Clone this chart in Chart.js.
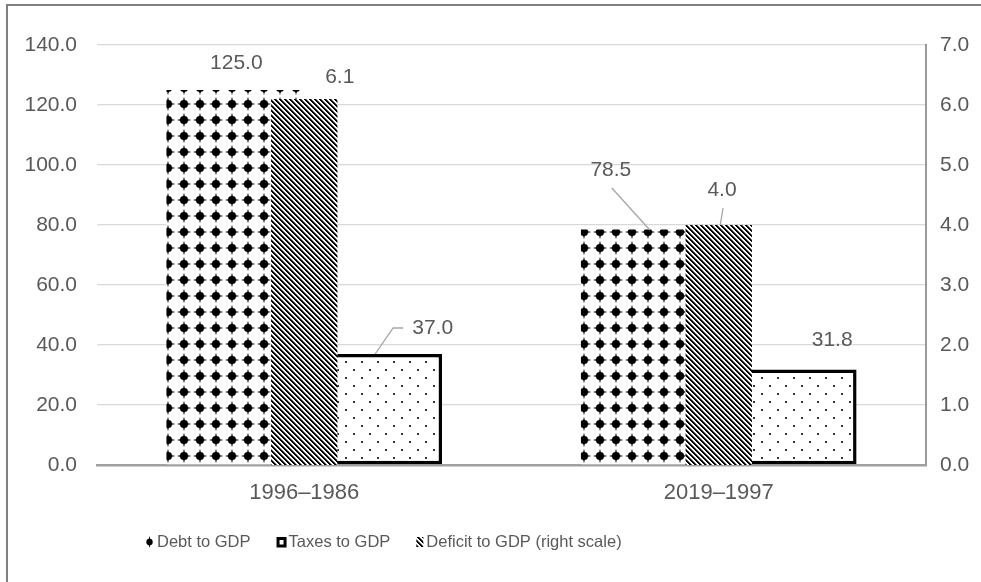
<!DOCTYPE html>
<html>
<head>
<meta charset="utf-8">
<script src="https://cdn.jsdelivr.net/npm/chart.js@4"></script>
<style>
  html, body { margin: 0; padding: 0; background: #fff; }
  #wrap { position: relative; width: 981px; height: 582px; }
</style>
</head>
<body>
<div id="wrap"><canvas id="c" width="981" height="582"></canvas></div>
<script>
// ---- data ----
const categories = ['1996–1986', '2019–1997'];
const debtToGdp = [125.0, 78.5];
const taxesToGdp = [37.0, 31.8];
const deficitToGdp = [6.1, 4.0];
const leftTicks = [0, 20, 40, 60, 80, 100, 120, 140];
const rightTicks = [0, 1, 2, 3, 4, 5, 6, 7];
const seriesNames = ['Debt to GDP', 'Taxes to GDP', 'Deficit to GDP (right scale)'];

// ---- styling ----
const FONT = "'Liberation Sans', Arial, sans-serif";
const TEXT = '#595959';

// where each value label sits relative to the top-centre of its bar,
// plus optional leader lines (bar point, then points relative to the label)
const labelPlacement = [
  [ { dx: 1, dy: -27 },
    { dx: -39, dy: -59.5, leader: { bar: [0, 0.5], label: [[1, 18]] } } ],
  [ { dx: 59.5, dy: -26, leader: { bar: [2, 0], label: [[-39.5, 0], [-29.5, 0]] } },
    { dx: 44.5, dy: -29.5 } ],
  [ { dx: 35.5, dy: -21.5 },
    { dx: 3.25, dy: -35, leader: { bar: [1.5, 0], label: [[1, 18]] } } ]
];

// ---- fill patterns ----
function tile(size, paint) {
  const c = document.createElement('canvas');
  c.width = c.height = size;
  const g = c.getContext('2d');
  g.fillStyle = '#fff';
  g.fillRect(0, 0, size, size);
  paint(g, size);
  return c;
}
function drawDot(g, cx, cy) {
  g.fillStyle = '#000';
  g.beginPath(); g.arc(cx, cy, 4.1, 0, Math.PI * 2); g.fill();
  g.beginPath(); g.moveTo(cx, cy - 7.2); g.lineTo(cx + 1.8, cy); g.lineTo(cx, cy + 7.2); g.lineTo(cx - 1.8, cy); g.closePath(); g.fill();
  g.beginPath(); g.moveTo(cx - 7.2, cy); g.lineTo(cx, cy + 1.8); g.lineTo(cx + 7.2, cy); g.lineTo(cx, cy - 1.8); g.closePath(); g.fill();
}
const debtTile = tile(16, g => drawDot(g, 8, 8));
// dark downward diagonal hatch
const deficitTile = tile(5, (g, n) => {
  const img = g.getImageData(0, 0, n, n);
  for (let y = 0; y < n; y++) for (let x = 0; x < n; x++) {
    const k = (x - y + n * 4) % n;
    const v = k < 2 ? 0 : (k === 2 ? 110 : 255);
    const i = (y * n + x) * 4;
    img.data[i] = img.data[i + 1] = img.data[i + 2] = v; img.data[i + 3] = 255;
  }
  g.putImageData(img, 0, 0);
});
const taxTile = tile(16, g => {
  g.fillStyle = '#333';
  g.fillRect(1, 1, 2, 2);
  g.fillRect(9, 9, 2, 2);
});

const canvas = document.getElementById('c');
const ctx0 = canvas.getContext('2d');
const debtFill = ctx0.createPattern(debtTile, 'repeat');
const deficitFill = ctx0.createPattern(deficitTile, 'repeat');
const taxFill = ctx0.createPattern(taxTile, 'repeat');

// ---- plugins ----
const framePlugin = {
  id: 'frame',
  beforeDraw(chart) {
    const g = chart.ctx;
    g.save();
    g.fillStyle = '#fff';
    g.fillRect(0, 0, chart.width, chart.height);
    g.strokeStyle = '#7f7f7f';
    g.lineWidth = 2;
    g.beginPath();
    g.moveTo(7, chart.height);
    g.lineTo(7, 5);
    g.lineTo(chart.width, 5);
    g.stroke();
    g.restore();
  }
};

const valueLabels = {
  id: 'valueLabels',
  afterDatasetsDraw(chart) {
    const g = chart.ctx;
    g.save();
    g.font = '21px ' + FONT;
    g.fillStyle = TEXT;
    g.textAlign = 'center';
    g.textBaseline = 'middle';
    chart.data.datasets.forEach((ds, i) => {
      const meta = chart.getDatasetMeta(i);
      meta.data.forEach((bar, j) => {
        const p = labelPlacement[i][j];
        const lx = bar.x + p.dx, ly = bar.y + p.dy;
        if (p.leader) {
          g.strokeStyle = '#a6a6a6';
          g.lineWidth = 1.3;
          g.beginPath();
          g.moveTo(bar.x + p.leader.bar[0], bar.y + p.leader.bar[1]);
          p.leader.label.forEach(pt => g.lineTo(lx + pt[0], ly + pt[1]));
          g.stroke();
        }
        g.fillText(ds.data[j].toFixed(1), lx, ly);
      });
    });
    g.restore();
  }
};

const legendPlugin = {
  id: 'patternLegend',
  afterDraw(chart) {
    const g = chart.ctx;
    const y = 542;
    let x = 146;
    g.save();
    g.font = '16.5px ' + FONT;
    g.fillStyle = TEXT;
    g.textBaseline = 'middle';
    g.textAlign = 'left';
    chart.data.datasets.forEach((ds, i) => {
      if (i === 0) {
        g.save();
        g.fillStyle = '#000';
        g.beginPath(); g.arc(x + 3.5, y, 3.2, 0, Math.PI * 2); g.fill();
        g.beginPath(); g.moveTo(x + 3.5, y - 6); g.lineTo(x + 5, y); g.lineTo(x + 3.5, y + 6); g.lineTo(x + 2, y); g.closePath(); g.fill();
        g.restore();
        x += 11;
      } else if (i === 1) {
        g.save();
        g.fillStyle = '#000';
        g.fillRect(x, y - 5, 10, 10.5);
        g.fillStyle = '#fff';
        g.fillRect(x + 3, y - 2, 4, 4.5);
        g.restore();
        x += 12;
      } else {
        g.save();
        g.fillStyle = deficitFill;
        g.fillRect(x, y - 5, 7, 10);
        g.restore();
        x += 10;
      }
      g.fillStyle = TEXT;
      g.fillText(ds.label, x, y);
      x += g.measureText(ds.label).width + 26;
    });
    g.restore();
  }
};

// ---- chart ----
new Chart(canvas, {
  type: 'bar',
  data: {
    labels: categories,
    datasets: [
      { label: seriesNames[0], data: debtToGdp, backgroundColor: debtFill, borderWidth: 0,
        yAxisID: 'y', order: 1, categoryPercentage: 0.665, barPercentage: 1 },
      { label: seriesNames[1], data: taxesToGdp, backgroundColor: taxFill, borderColor: '#000',
        borderWidth: 3.5, borderSkipped: false,
        yAxisID: 'y', order: 1, categoryPercentage: 0.665, barPercentage: 1 },
      // secondary-axis series is centred on the category and drawn over the others
      { label: seriesNames[2], data: deficitToGdp, backgroundColor: deficitFill, borderWidth: 0,
        yAxisID: 'y2', order: 0, grouped: false, categoryPercentage: 1, barPercentage: 0.16 }
    ]
  },
  options: {
    responsive: false,
    animation: false,
    devicePixelRatio: 1,
    layout: { padding: { top: 45, left: 0, right: 0, bottom: 0 } },
    plugins: { legend: { display: false }, tooltip: { enabled: false } },
    scales: {
      x: {
        type: 'category', position: 'bottom', offset: true,
        grid: { display: false, drawTicks: false },
        border: { display: true, color: '#a0a0a0', width: 2.5 },
        ticks: { font: { family: FONT, size: 22 }, color: TEXT, padding: 15, maxRotation: 0 },
        afterFit(s) { s.height = 117; }
      },
      y: {
        position: 'left',
        min: leftTicks[0], max: leftTicks[leftTicks.length - 1],
        ticks: { stepSize: leftTicks[1] - leftTicks[0], padding: 20, color: TEXT,
                 font: { family: FONT, size: 21 }, callback: v => Number(v).toFixed(1) },
        grid: { color: '#d9d9d9', lineWidth: 1.3, drawTicks: false },
        border: { display: false },
        afterFit(s) { s.width = 97; }
      },
      y2: {
        position: 'right',
        min: rightTicks[0], max: rightTicks[rightTicks.length - 1],
        ticks: { stepSize: rightTicks[1] - rightTicks[0], padding: 14, color: TEXT,
                 font: { family: FONT, size: 21 }, callback: v => Number(v).toFixed(1) },
        grid: { display: false, drawTicks: false },
        border: { display: true, color: '#9a9a9a', width: 2 },
        afterFit(s) { s.width = 55; }
      }
    }
  },
  plugins: [framePlugin, valueLabels, legendPlugin]
});
</script>
</body>
</html>
